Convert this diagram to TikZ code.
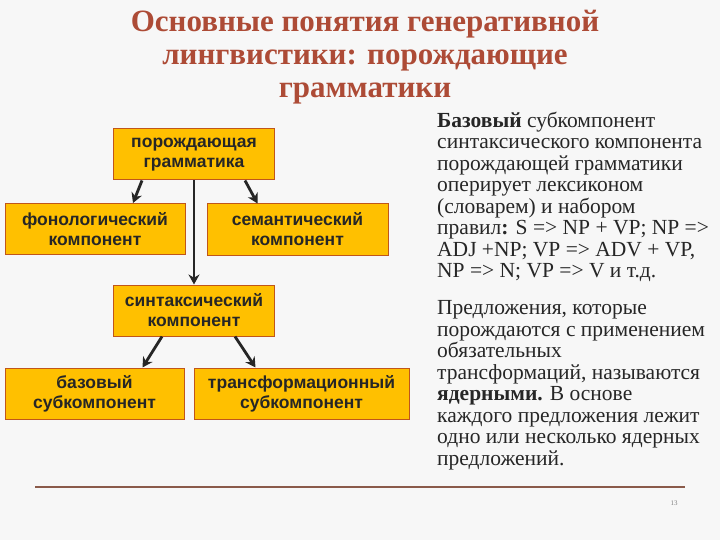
\documentclass[tikz,border=0pt]{standalone}
\usepackage{fontspec}
\setmainfont{Liberation Serif}
\newfontfamily\boxfont{Liberation Sans}
\usetikzlibrary{arrows.meta}
\definecolor{boxfill}{HTML}{FFC000}
\definecolor{boxedge}{HTML}{C0561A}
\definecolor{titlecol}{HTML}{AD4B36}
\definecolor{txtcol}{HTML}{262626}
\definecolor{rulecol}{HTML}{8A5A4A}
\tikzset{
  box/.style={draw=boxedge, line width=1pt, fill=boxfill, align=center,
    font=\boxfont\bfseries\fontsize{17.5}{20}\selectfont, text=txtcol,
    inner sep=0pt, minimum height=51pt},
  conn/.style={draw=txtcol, line width=2.8pt, -{Stealth[length=10pt,width=11pt]}},
  para/.style={anchor=north west, align=left, text=txtcol,
    font=\fontsize{21.5}{21.5}\selectfont, inner sep=0pt}
}
\begin{document}
\begin{tikzpicture}[x=1pt,y=-1pt]
\useasboundingbox (0,0) rectangle (720,540);
\fill[white!97!black] (0,0) rectangle (720,540);
% title
\node[font=\bfseries\fontsize{31}{33}\selectfont, text=titlecol, align=center] (title) at (365,57)
  {Основные понятия генеративной\\лингвистики: порождающие\\грамматики};
% boxes
\node[box, minimum width=161pt] (gen) at (194,154.5) {порождающая\\грамматика};
\node[box, minimum width=180pt] (phon) at (95,229) {фонологический\\компонент};
\node[box, minimum width=181pt] (sem) at (297.5,229.5) {семантический\\компонент};
\node[box, minimum width=161pt] (syn) at (194,310.5) {синтаксический\\компонент};
\node[box, minimum width=179pt] (base) at (94.5,393.5) {базовый\\субкомпонент};
\node[box, minimum width=215pt] (trans) at (301.5,393.5) {трансформационный\\субкомпонент};
% connectors
\draw[conn] ([xshift=-52pt]gen.south) -- ([xshift=38pt]phon.north);
\draw[conn] ([xshift=51pt]gen.south) -- ([xshift=-40pt]sem.north);
\draw[conn] (gen.south) -- (syn.north);
\draw[conn] ([xshift=-32pt]syn.south) -- ([xshift=48pt]base.north);
\draw[conn] ([xshift=41pt]syn.south) -- ([xshift=-46pt]trans.north);
% right text
\node[para] (t1) at (437,111.5)
  {\textbf{Базовый} субкомпонент\\синтаксического компонента\\порождающей грамматики\\оперирует лексиконом\\(словарем) и набором\\правил\textbf{:} S => NP + VP; NP =>\\ADJ +NP; VP => ADV + VP,\\NP => N; VP => V и т.д.};
\node[para] (t2) at (437,300.5)
  {Предложения, которые\\порождаются с применением\\обязательных\\трансформаций, называются\\\textbf{ядерными.} В основе\\каждого предложения лежит\\одно или несколько ядерных\\предложений.};
% footer
\coordinate (r1) at (35,487);
\coordinate (r2) at (685,487);
\draw[draw=rulecol, line width=1.2pt] (r1) -- (r2);
\node[text=gray, font=\fontsize{7}{8}\selectfont] (pg) at (674,503) {13};
\end{tikzpicture}
\end{document}
